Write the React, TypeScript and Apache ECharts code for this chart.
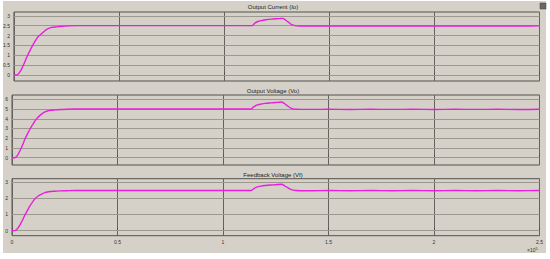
import React, { useEffect, useRef } from "react";
import * as echarts from "echarts";

const time = [0, 0.014, 0.026, 0.038, 0.05, 0.062, 0.074, 0.085, 0.097, 0.109, 0.121, 0.133, 0.145, 0.156, 0.168, 0.18, 0.204, 0.227, 0.26, 0.3, 0.6, 0.9, 1.133, 1.145, 1.16, 1.18, 1.2, 1.225, 1.25, 1.278, 1.29, 1.305, 1.318, 1.332, 1.346, 1.37, 1.42, 1.5, 1.6, 1.7, 1.8, 1.9, 2.0, 2.1, 2.2, 2.3, 2.4, 2.5];
const currentIo = [0, 0.0, 0.12, 0.34, 0.62, 0.93, 1.19, 1.43, 1.65, 1.86, 2.0, 2.11, 2.22, 2.31, 2.37, 2.41, 2.44, 2.47, 2.49, 2.5, 2.5, 2.5, 2.5, 2.62, 2.71, 2.76, 2.8, 2.83, 2.85, 2.87, 2.8, 2.68, 2.57, 2.51, 2.49, 2.48, 2.48, 2.49, 2.48, 2.49, 2.48, 2.49, 2.48, 2.49, 2.48, 2.49, 2.48, 2.49];
const voltageVo = [0, 0.0, 0.24, 0.72, 1.3, 1.94, 2.46, 2.92, 3.36, 3.78, 4.1, 4.35, 4.55, 4.7, 4.8, 4.86, 4.91, 4.95, 4.98, 5.0, 5.0, 5.0, 5.0, 5.22, 5.4, 5.5, 5.58, 5.63, 5.67, 5.72, 5.58, 5.34, 5.13, 5.01, 4.97, 4.96, 4.96, 4.97, 4.95, 4.97, 4.96, 4.97, 4.95, 4.97, 4.96, 4.97, 4.95, 4.97];
const feedbackVf = [0, 0.0, 0.13, 0.36, 0.66, 0.98, 1.26, 1.52, 1.76, 1.96, 2.1, 2.2, 2.28, 2.34, 2.38, 2.41, 2.43, 2.45, 2.46, 2.47, 2.47, 2.47, 2.47, 2.58, 2.68, 2.74, 2.78, 2.81, 2.83, 2.86, 2.78, 2.66, 2.56, 2.5, 2.47, 2.46, 2.46, 2.47, 2.46, 2.47, 2.46, 2.47, 2.46, 2.47, 2.46, 2.47, 2.46, 2.47];

const titles = ["Output Current (Io)", "Output Voltage (Vo)", "Feedback Voltage (Vf)"];
const xTicks = [0, 0.5, 1, 1.5, 2, 2.5];
const ioTicks = [0, 0.5, 1, 1.5, 2, 2.5, 3];
const voTicks = [0, 1, 2, 3, 4, 5, 6];
const vfTicks = [0, 1, 2, 3];
const xExponentBase = "×10";
const xExponent = "5";

const BG = "#d5d1c9";
const BORDER = "#55524e";
const HGRID = "#9c988f";
const VGRID = "#65625d";
const LINE = "#e91edc";
const FONT = "Liberation Sans";

export default function App() {
  const ref = useRef<HTMLDivElement>(null);
  useEffect(() => {
    if (!ref.current) return;
    const chart = echarts.init(ref.current, undefined, { renderer: "svg" });

    const grids = [
      { left: 12, right: 10.5, top: 12, height: 69 },
      { left: 12, right: 10.5, top: 95, height: 70 },
      { left: 12, right: 10.5, top: 178.7, height: 57 },
    ];
    const yRanges = [
      { min: -0.3, max: 3.19, ticks: ioTicks },
      { min: -0.75, max: 6.44, ticks: voTicks },
      { min: -0.31, max: 3.2, ticks: vfTicks },
    ];
    const seriesVals = [currentIo, voltageVo, feedbackVf];
    const titleTops = [4, 88, 171.5];

    const xAxes = grids.map((_, i) => ({
      type: "value",
      gridIndex: i,
      min: 0,
      max: 2.5,
      interval: 0.5,
      axisLine: { show: false },
      axisTick: { show: true, inside: true, length: 3, lineStyle: { color: BORDER } },
      axisLabel: {
        show: i === 2,
        customValues: xTicks,
        fontSize: 5,
        color: "#333",
        fontFamily: FONT,
        margin: 4,
      },
      splitLine: { show: true, lineStyle: { color: VGRID, width: 1 } },
    }));

    const yAxesLeft = yRanges.map((r, i) => ({
      type: "value",
      gridIndex: i,
      min: r.min,
      max: r.max,
      position: "left",
      axisLine: { show: false },
      axisTick: { show: true, inside: true, length: 3, customValues: r.ticks, lineStyle: { color: BORDER } },
      axisLabel: { show: true, customValues: r.ticks, fontSize: 5, color: "#333", fontFamily: FONT, margin: 4 },
      splitLine: { show: false },
    }));
    const yAxesRight = yRanges.map((r, i) => ({
      type: "value",
      gridIndex: i,
      min: r.min,
      max: r.max,
      position: "right",
      axisLine: { show: false },
      axisTick: { show: true, inside: true, length: 4, customValues: r.ticks, lineStyle: { color: BORDER } },
      axisLabel: { show: false },
      splitLine: { show: false },
    }));

    const series = seriesVals.map((vals, i) => ({
      type: "line",
      xAxisIndex: i,
      yAxisIndex: i,
      data: time.map((t, k) => [t, vals[k]]),
      showSymbol: false,
      symbol: "none",
      smooth: 0.25,
      lineStyle: { color: LINE, width: 1.4 },
      z: 5,
      markLine: {
        silent: true,
        symbol: "none",
        label: { show: false },
        lineStyle: { color: HGRID, type: "solid", width: 1 },
        z: 1,
        data: yRanges[i].ticks.map((v) => ({ yAxis: v })),
      },
    }));

    chart.setOption({
      animation: false,
      backgroundColor: "#ffffff",
      title: titles.map((text, i) => ({
        text,
        left: 273,
        top: titleTops[i],
        padding: 0,
        textAlign: "center",
        textStyle: { fontSize: 6, fontWeight: "normal", color: "#222", fontFamily: FONT },
      })),
      grid: grids.map((g) => ({ ...g, show: true, borderColor: BORDER, borderWidth: 1, backgroundColor: "transparent" })),
      xAxis: xAxes,
      yAxis: [...yAxesLeft, ...yAxesRight],
      series,
      graphic: [
        { type: "rect", z: -10, shape: { x: 3, y: 1, width: 543, height: 252 }, style: { fill: BG } },
        { type: "rect", z: 10, shape: { x: 540, y: 3, width: 6, height: 6 }, style: { fill: "#6a6864", stroke: "#3f3d3a", lineWidth: 0.5 } },
        {
          type: "text",
          z: 10,
          x: 527,
          y: 246,
          style: {
            text: xExponentBase + "{sup|" + xExponent + "}",
            fontSize: 5,
            fill: "#333",
            fontFamily: FONT,
            rich: { sup: { fontSize: 4, verticalAlign: "top", padding: [0, 0, 3, 0], fill: "#333", fontFamily: FONT } },
          },
        },
      ],
    });
    return () => chart.dispose();
  }, []);
  return <div ref={ref} style={{ position: "fixed", left: 0, top: 0, width: 550, height: 259 }} />;
}
